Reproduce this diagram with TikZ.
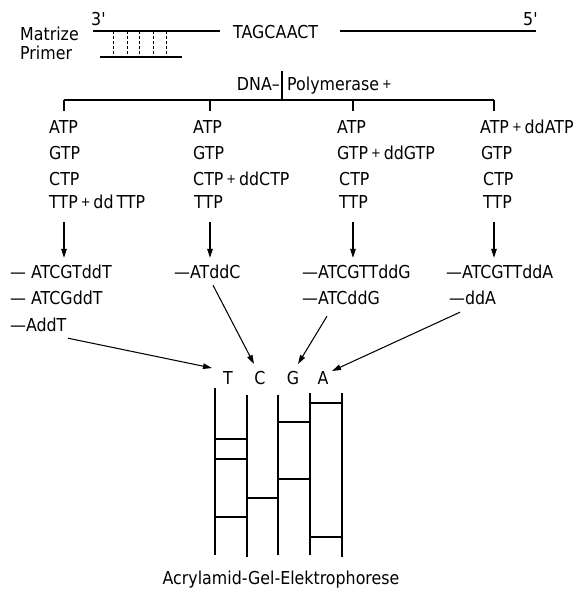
\documentclass[tikz,border=0pt]{standalone}
\usepackage{fontspec}
\setmainfont{DejaVu Sans}[FakeStretch=0.89]
\usetikzlibrary{arrows.meta,calc}
\newcommand{\smplus}{\,\raisebox{1.8pt}{\fontsize{13}{13}\selectfont+}\,}
\tikzset{
  lbl/.style={inner sep=0pt, text height=13pt, text depth=0pt, font=\fontsize{17.8}{20}\selectfont},
  lw/.style={lbl, anchor=west},
  ln/.style={line width=1.05pt},
  arr/.style={ln, -{Triangle[length=9pt,width=5.5pt]}},
  hb/.style={dash pattern=on 3pt off 2pt, line width=0.9pt}
}
\begin{document}
\begin{tikzpicture}[x=1pt,y=-1pt]
\useasboundingbox[fill=white] (0,0) rectangle (576,590);
% top: template and primer
\node[lw] (matrize) at (20,34) {Matrize};
\node[lw] (primer) at (20,53) {Primer};
\node[lw] (three) at (91,19) {3\textquotesingle};
\node[lw] (five) at (523,19) {5\textquotesingle};
\node[lw] (seq) at (233,32) {TAGCAACT};
\coordinate (m3) at (93,31);
\coordinate (a1) at (220,31);
\coordinate (a2) at (340,31);
\coordinate (m5) at (536,31);
\draw[ln] (m3) -- (a1);
\draw[ln] (a2) -- (m5);
\coordinate (p1) at (100,57);
\coordinate (p2) at (182,57);
\draw[ln] (p1) -- (p2);
\foreach \x in {113,127,139,153,166}{\draw[hb] (\x,31) -- (\x,57);}
% polymerase
\node[lbl, anchor=east] (dna) at (280,84) {DNA–};
\node[lw] (pol) at (287,84) {Polymerase\smplus};
\coordinate (bartop) at (282,71);
\coordinate (root) at (282,100);
\draw[ln] (bartop) -- (root);
\coordinate (t1) at (64,100);
\coordinate (t2) at (210,100);
\coordinate (t3) at (353,100);
\coordinate (t4) at (494,100);
\draw[ln] (t1) -- (t4);
\foreach \t in {t1,t2,t3,t4}{\draw[ln] (\t) -- ++(0,11);}
% columns of nucleotides
\node[lw] (c1a) at (49,127) {ATP};
\node[lw] (c1b) at (49,153) {GTP};
\node[lw] (c1c) at (49,179) {CTP};
\node[lw] (c1d) at (49,202) {TTP\smplus dd\,TTP};
\node[lw] (c2a) at (193,127) {ATP};
\node[lw] (c2b) at (193,153) {GTP};
\node[lw] (c2c) at (193,179) {CTP\smplus ddCTP};
\node[lw] (c2d) at (194,202) {TTP};
\node[lw] (c3a) at (337,127) {ATP};
\node[lw] (c3b) at (337,153) {GTP\smplus ddGTP};
\node[lw] (c3c) at (339,179) {CTP};
\node[lw] (c3d) at (339,202) {TTP};
\node[lw] (c4a) at (480,127) {ATP\smplus ddATP};
\node[lw] (c4b) at (481,153) {GTP};
\node[lw] (c4c) at (483,179) {CTP};
\node[lw] (c4d) at (483,202) {TTP};
% products
\node[lw] (r1a) at (10,272) {— ATCGTddT};
\node[lw] (r1b) at (10,298) {— ATCGddT};
\node[lw] (r1c) at (10,325) {—AddT};
\node[lw] (r2a) at (174,272) {—ATddC};
\node[lw] (r3a) at (302,272) {—ATCGTTddG};
\node[lw] (r3b) at (302,298) {—ATCddG};
\node[lw] (r4a) at (446,272) {—ATCGTTddA};
\node[lw] (r4b) at (449,298) {—ddA};
% vertical arrows
\draw[arr, shorten <=13.5pt, shorten >=7.5pt] (c1d.south -| t1) -- (r1a.north -| t1);
\draw[arr, shorten <=13.5pt, shorten >=7.5pt] (c2d.south -| t2) -- (r2a.north -| t2);
\draw[arr, shorten <=13.5pt, shorten >=7.5pt] (c3d.south -| t3) -- (r3a.north -| t3);
\draw[arr, shorten <=13.5pt, shorten >=7.5pt] (c4d.south -| t4) -- (r4a.north -| t4);
% gel letters
\node[lbl] (gT) at (228,378) {T};
\node[lbl] (gC) at (260,378) {C};
\node[lbl] (gG) at (293,378) {G};
\node[lbl] (gA) at (323,378) {A};
\draw[arr] ([shift={(58,6.5)}]r1c.south west) -- ([shift={(-16,-10)}]gT.center);
\draw[arr] ([shift={(39,6.5)}]r2a.south west) -- ([shift={(-6,-14)}]gC.center);
\draw[arr] ([shift={(25,11.5)}]r3b.south west) -- ([shift={(5,-14)}]gG.center);
\draw[arr] ([shift={(11,7.5)}]r4b.south west) -- ([shift={(9,-7)}]gA.center);
% gel
\draw[ln] (215,388) -- (215,555);
\draw[ln] (247,395) -- (247,557);
\draw[ln] (278,395) -- (278,555);
\draw[ln] (310,393) -- (310,555);
\draw[ln] (342,393) -- (342,557);
\foreach \y in {439,459,517}{\draw[ln] (215,\y) -- (247,\y);}
\draw[ln] (247,498) -- (278,498);
\foreach \y in {422,479}{\draw[ln] (278,\y) -- (310,\y);}
\foreach \y in {403,537}{\draw[ln] (310,\y) -- (342,\y);}
\node[lbl] (gel) at (281,578) {Acrylamid-Gel-Elektrophorese};
\end{tikzpicture}
\end{document}
